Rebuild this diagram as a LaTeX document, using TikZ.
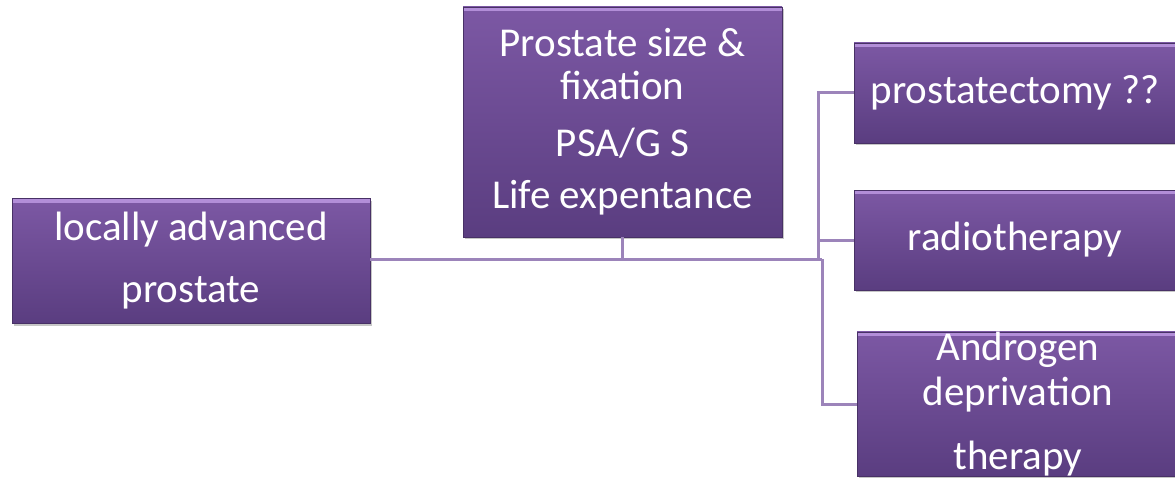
\documentclass[tikz,border=0pt]{standalone}
\usepackage{fontspec}
\setmainfont{Carlito}
\usetikzlibrary{shadows}

\definecolor{boxtop}{RGB}{124,88,164}
\definecolor{boxbot}{RGB}{90,61,128}
\definecolor{boxlight}{RGB}{178,142,216}
\definecolor{linkcol}{RGB}{156,132,186}

\tikzset{every picture/.style={line width=0.75pt}}
\tikzset{
  purplebox/.style={rectangle, inner sep=0pt, top color=boxtop, bottom color=boxbot,
    draw=boxbot!80!black, line width=0.4pt, text=white, align=center,
    drop shadow={shadow xshift=1.5pt, shadow yshift=-1.5pt, opacity=0.45},
    font=\fontsize{30.75}{33.75}\selectfont,
    path picture={\fill[boxlight] (path picture bounding box.north west) rectangle ([yshift=-3pt]path picture bounding box.north east);}},
  link/.style={draw=linkcol, line width=2.25pt}
}

\begin{document}
\begin{tikzpicture}[x=0.75pt,y=0.75pt,yscale=-1,xscale=1]
		\useasboundingbox (0,0) rectangle (1175,478);
		
		% Boxes
		\node [purplebox, minimum width=268.5pt, minimum height=93.75pt] (lap) at (191,261) {locally advanced\\[12.75pt]prostate};
		\node [purplebox, minimum width=239.25pt, minimum height=172.5pt, font=\fontsize{30.75}{32}\selectfont] (crit) at (622.5,122) {Prostate size \&\\fixation\\[11pt]PSA/G S\\[7pt]Life expentance};
		\node [purplebox, minimum width=241.5pt, minimum height=75pt] (rp) at (1015,93) {prostatectomy ??};
		\node [purplebox, minimum width=241.5pt, minimum height=75pt] (rt) at (1015,240) {radiotherapy};
		\node [purplebox, minimum width=241.5pt, minimum height=106.5pt] (adt) at (1018,404) {Androgen\\deprivation\\[14.25pt]therapy};
		
		% Junction points
		\coordinate (jmain) at (822,259);
		\coordinate (jup) at (818,259);
		
		%Straight Lines
		\draw [link] (lap.east |- jmain) -- (jmain);
		\draw [link] (crit.south) -- (crit.south |- jmain);
		\draw [link] (jup) -- (jup |- rp.west) -- (rp.west);
		\draw [link] (jup |- rt.west) -- (rt.west);
		\draw [link] (jmain) -- (jmain |- adt.west) -- (adt.west);
		
\end{tikzpicture}
\end{document}
